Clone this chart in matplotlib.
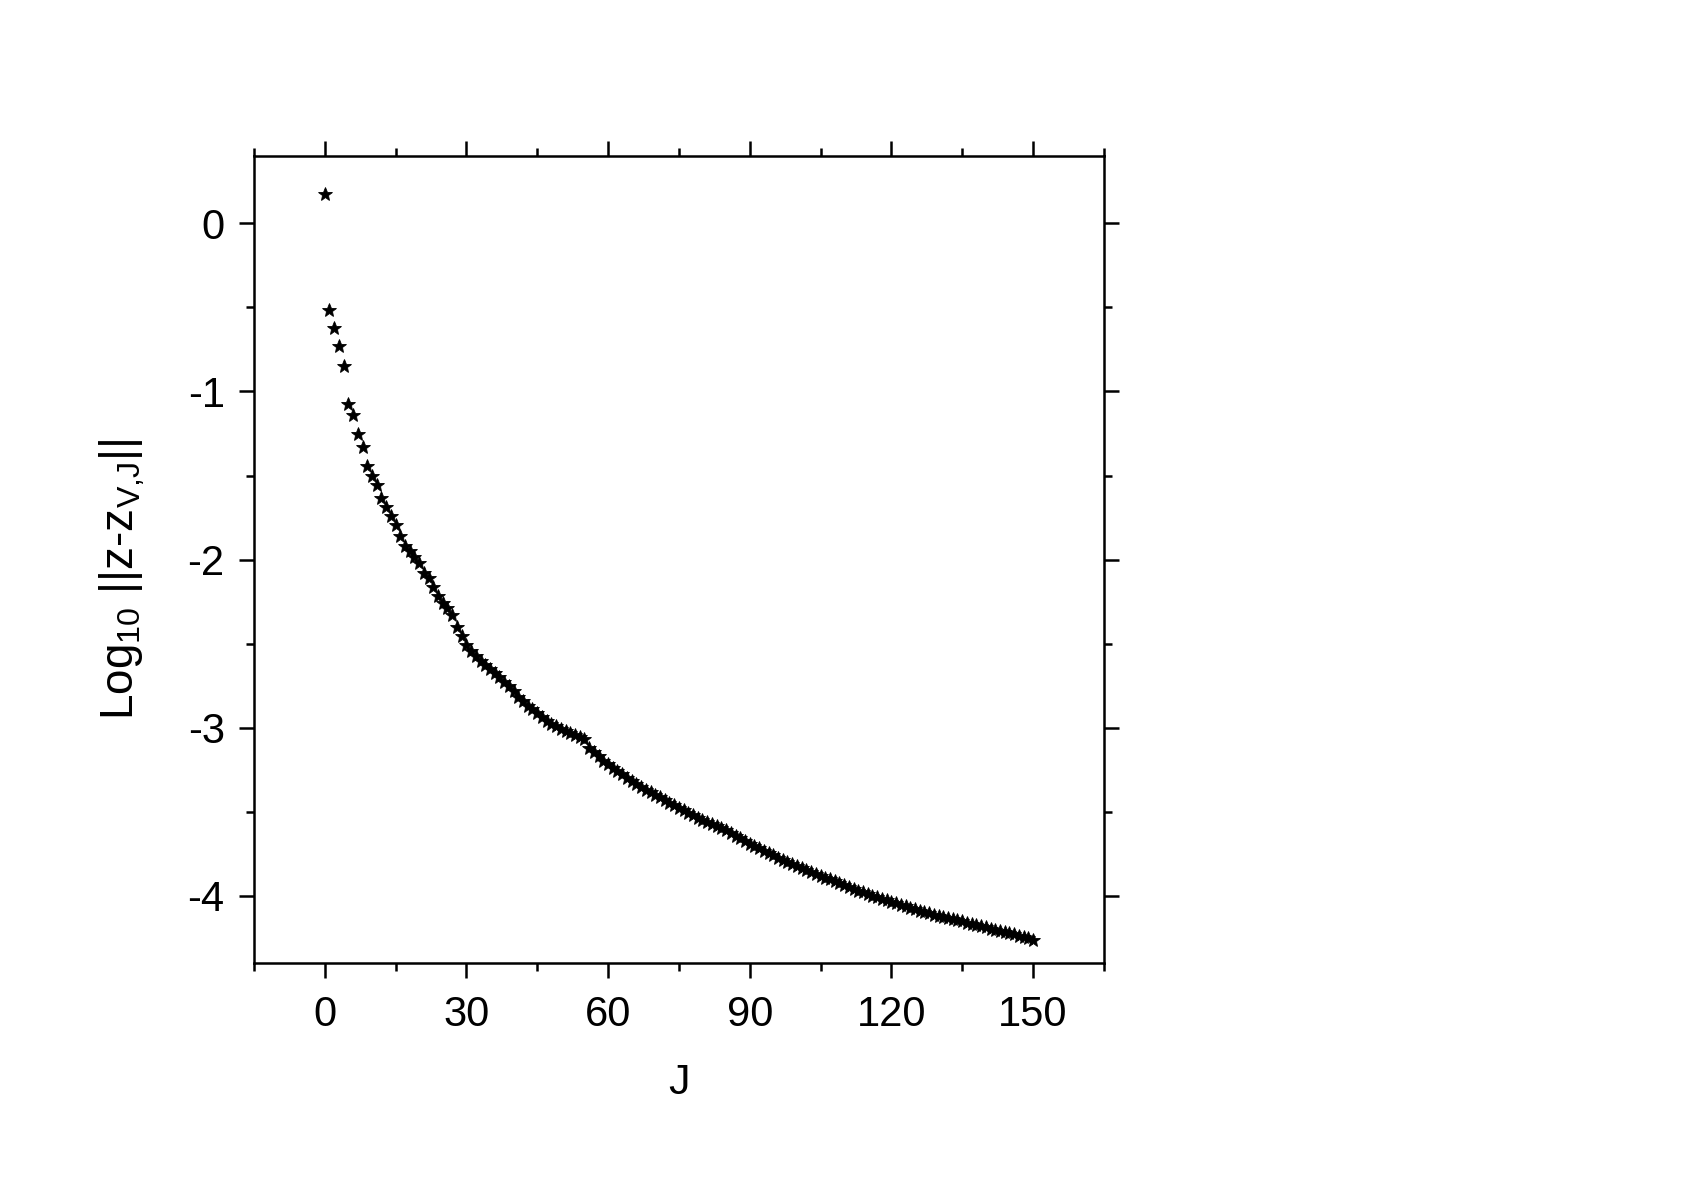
import matplotlib
matplotlib.use("Agg")
import matplotlib.pyplot as plt
from matplotlib.ticker import MultipleLocator

# ---------- data ----------

J = list(range(0, 151))

log_err = [
    0.172, -0.513, -0.621, -0.730, -0.848, -1.077, -1.140, -1.253, -1.331, -1.444,
    -1.503, -1.558, -1.631, -1.686, -1.740, -1.795, -1.858, -1.920, -1.950, -1.982,
    -2.022, -2.077, -2.111, -2.160, -2.215, -2.259, -2.288, -2.331, -2.401, -2.452,
    -2.505, -2.544, -2.574, -2.604, -2.624, -2.653, -2.677, -2.698, -2.726, -2.751,
    -2.781, -2.817, -2.840, -2.870, -2.890, -2.911, -2.939, -2.959, -2.975, -2.990,
    -3.005, -3.018, -3.030, -3.042, -3.055, -3.068, -3.118, -3.145, -3.170, -3.195,
    -3.217, -3.238, -3.258, -3.278, -3.298, -3.316, -3.334, -3.352, -3.369, -3.385,
    -3.400, -3.415, -3.430, -3.445, -3.460, -3.475, -3.490, -3.505, -3.520, -3.535,
    -3.550, -3.562, -3.574, -3.586, -3.598, -3.610, -3.626, -3.642, -3.658, -3.674,
    -3.690, -3.704, -3.718, -3.732, -3.746, -3.760, -3.772, -3.784, -3.796, -3.808,
    -3.820, -3.832, -3.844, -3.856, -3.868, -3.880, -3.891, -3.902, -3.913, -3.924,
    -3.935, -3.947, -3.958, -3.969, -3.980, -3.990, -3.999, -4.008, -4.017, -4.026,
    -4.035, -4.044, -4.053, -4.062, -4.071, -4.080, -4.088, -4.096, -4.103, -4.111,
    -4.118, -4.125, -4.132, -4.139, -4.145, -4.152, -4.159, -4.167, -4.174, -4.181,
    -4.188, -4.195, -4.202, -4.208, -4.215, -4.222, -4.229, -4.237, -4.244, -4.252,
    -4.260,
]

x_ticks = [0, 30, 60, 90, 120, 150]
y_ticks = [0, -1, -2, -3, -4]

# ---------- style ----------

plt.rcParams["font.family"] = ["Liberation Sans", "DejaVu Sans"]
plt.rcParams["mathtext.fontset"] = "custom"
plt.rcParams["mathtext.rm"] = "Liberation Sans"
plt.rcParams["mathtext.it"] = "Liberation Sans"
plt.rcParams["axes.unicode_minus"] = False  # plain hyphen like Origin

fig = plt.figure(figsize=(17.04, 11.89), dpi=100)
ax = fig.add_axes([0.149, 0.190, 0.4988, 0.6787])

ax.plot(J, log_err, linestyle="none", marker="*", markersize=10,
        color="black", markeredgewidth=0.6)

ax.set_xlim(-15, 165)
ax.set_ylim(-4.4, 0.4)
ax.set_xticks(x_ticks)
ax.set_yticks(y_ticks)
ax.xaxis.set_minor_locator(MultipleLocator(15))
ax.yaxis.set_minor_locator(MultipleLocator(0.5))

for side in ax.spines.values():
    side.set_linewidth(1.8)

ax.tick_params(which="both", direction="out", top=True, right=True,
               labeltop=False, labelright=False, width=1.8)
ax.tick_params(which="major", length=11, labelsize=30)
ax.tick_params(axis="y", which="major", pad=10)
ax.tick_params(axis="x", which="major", pad=12)
ax.tick_params(which="minor", length=6)

ax.set_xlabel("J", fontsize=31)
ax.set_ylabel(r"Log$_{10}$ ||z-z$_{\mathrm{V{,}J}}$||", fontsize=33)
ax.xaxis.set_label_coords(0.5, -0.149)
ax.xaxis.label.set_va("center")
ax.yaxis.set_label_coords(-0.155, 0.476)
ax.yaxis.label.set_va("center")

fig.savefig("out.png", dpi=100)
